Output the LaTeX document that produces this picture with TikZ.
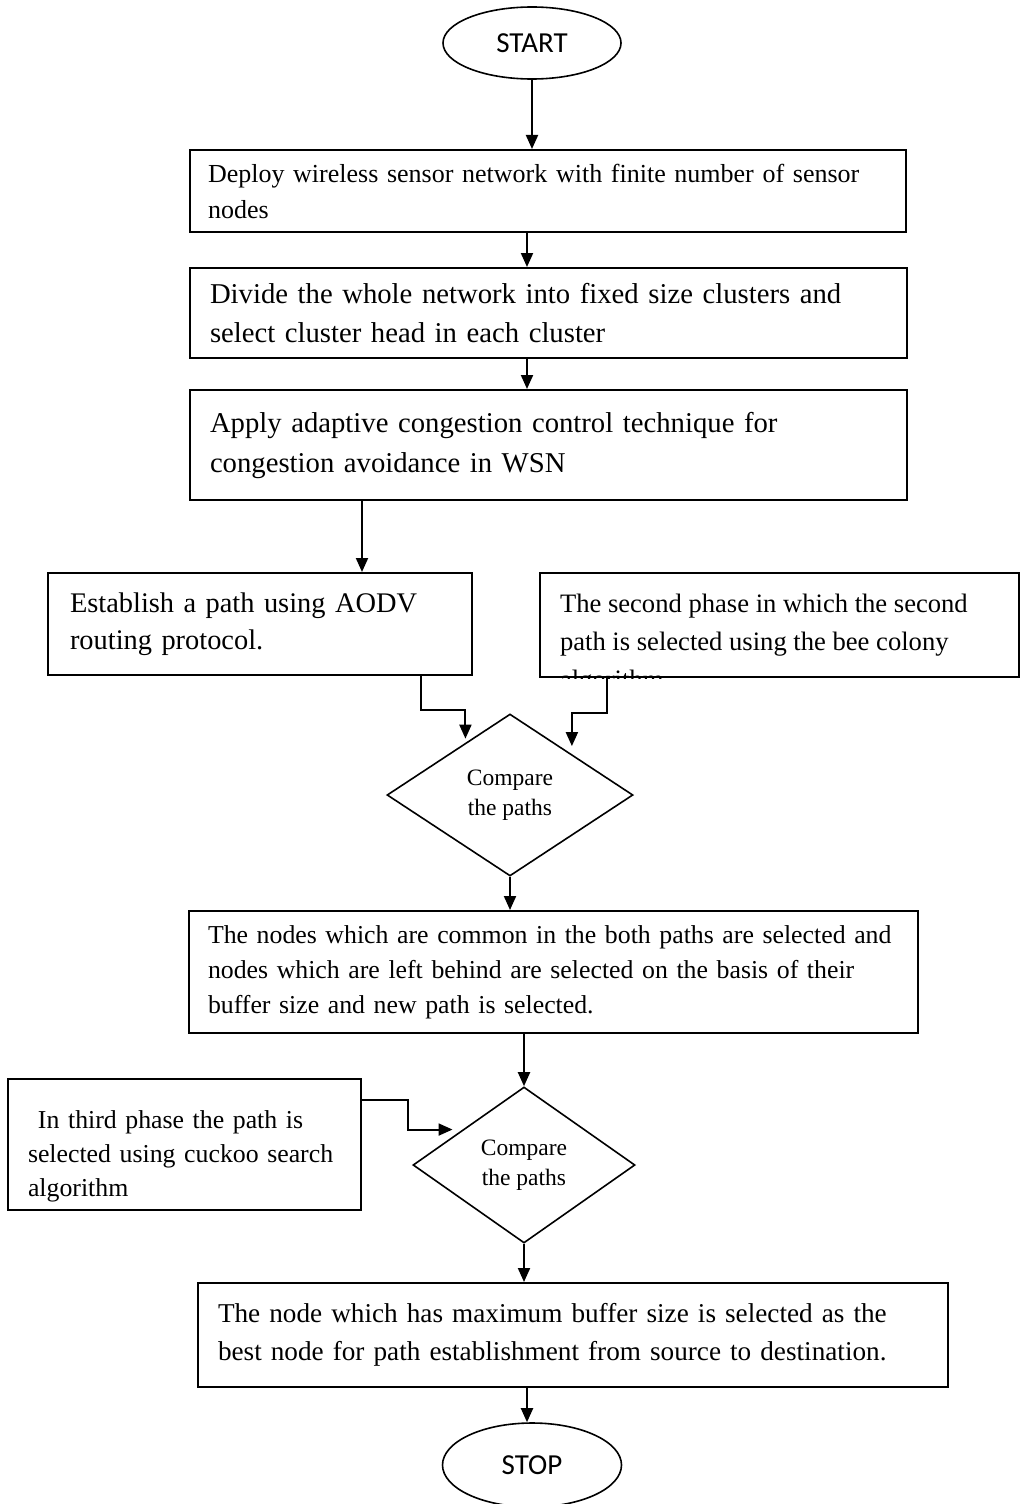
\documentclass[tikz,border=0pt]{standalone}
\usepackage{fontspec}
\setmainfont{Liberation Serif}
\newfontfamily\calibfont{Carlito}
\usepackage{tikz}
\usetikzlibrary{arrows.meta, positioning, shapes.geometric, calc}

\begin{document}
\begin{tikzpicture}[x=0.5pt, y=-0.5pt, >={Triangle[length=7pt,width=6pt]},
      line width=1pt,
      term/.style={draw, ellipse, line width=0.8pt, inner sep=0pt,
                   font=\calibfont\fontsize{14.5pt}{17pt}\selectfont},
      stepbox/.style={draw, rectangle, align=left, inner ysep=0pt},
      decide/.style={draw, diamond, line width=0.8pt, inner sep=0pt,
                     align=center, font=\fontsize{11.75pt}{15pt}\selectfont},
      bigtxt/.style={font=\fontsize{14.35pt}{19.5pt}\selectfont},
      smalltxt/.style={font=\fontsize{12.9pt}{17.5pt}\selectfont}]

    \useasboundingbox (0,0) rectangle (1021,1504);
    \coordinate (spine) at (527,0);     % main vertical line

    % --- start ---
    \node[term, minimum width=89pt, minimum height=36pt] (start) at (532,43) {START};

    % --- first three steps ---
    \node[stepbox, font=\fontsize{13pt}{18pt}\selectfont,
          text width=340pt, inner xsep=9pt, minimum height=41pt]
          (b1) at (548,191)
          {Deploy wireless sensor network with finite number of sensor\\nodes};
    \node[stepbox, bigtxt, text width=338.5pt, inner xsep=10pt, minimum height=45pt]
          (b2) at (548.5,313)
          {Divide the whole network into fixed size clusters and\\select cluster head in each cluster};
    \node[stepbox, bigtxt, font=\fontsize{14.35pt}{20pt}\selectfont,
          text width=338.5pt, inner xsep=10pt, minimum height=55pt]
          (b3) at (548.5,445)
          {Apply adaptive congestion control technique for\\congestion avoidance in WSN};

    % --- two paths ---
    \node[stepbox, font=\fontsize{14.2pt}{18.5pt}\selectfont,
          text width=190pt, inner xsep=11pt, minimum height=51pt]
          (b4) at (260,624)
          {Establish a path using AODV\\routing protocol.};
    \node[stepbox, minimum width=239.5pt, minimum height=52pt] (b5) at (779.5,625) {};
    \begin{scope}
      \clip (b5.north west) rectangle (b5.south east);
      \node[font=\fontsize{13.3pt}{19pt}\selectfont, align=left,
            anchor=north west, inner xsep=10pt, inner ysep=10.5pt]
            (b5txt) at (b5.north west)
            {The second phase in which the second\\path is selected using the bee colony\\algorithm};
    \end{scope}

    % --- first comparison ---
    \node[decide, minimum width=123pt, minimum height=81pt] (d1) at (510,795)
          {Compare\\the paths};
    \node[stepbox, smalltxt, text width=345.5pt, inner xsep=9.5pt, minimum height=61pt]
          (b6) at (553.5,972)
          {The nodes which are common in the both paths are selected and\\nodes which are left behind are selected on the basis of their\\buffer size and new path is selected.};

    % --- third phase, second comparison ---
    \node[stepbox, font=\fontsize{12.9pt}{17pt}\selectfont,
          text width=156.5pt, inner xsep=10pt, minimum height=65.5pt]
          (b7) at (184.5,1144.5)
          {\rule{0pt}{21pt}\hspace*{5pt}In third phase the path is\\selected using cuckoo search\\algorithm};
    \node[decide, minimum width=111pt, minimum height=78pt] (d2) at (524,1165)
          {Compare\\the paths};
    \node[stepbox, font=\fontsize{13.6pt}{19pt}\selectfont,
          text width=355pt, inner xsep=10pt, minimum height=52pt]
          (b8) at (573,1335)
          {The node which has maximum buffer size is selected as the\\best node for path establishment from source to destination.};

    % --- stop ---
    \node[term, minimum width=89.5pt, minimum height=42pt] (stop) at (532,1465) {STOP};

    % --- connectors ---
    \draw[->] (start.south) -- (start.south |- b1.north);
    \draw[->] (b1.south -| spine) -- (b2.north -| spine);
    \draw[->] (b2.south -| spine) -- (b3.north -| spine);
    \draw[->] ([xshift=51pt]b4.north |- b3.south) -- ([xshift=51pt]b4.north);
    \draw[->, shorten >=2pt] ([xshift=80.5pt]b4.south) -- ++(0,34)
          -| ($(d1.north)!0.36!(d1.west)$);
    \draw[->, shorten >=4pt] ([xshift=-86.25pt]b5.south) -- ++(0,35)
          -| ($(d1.north)!0.5!(d1.east)$);
    \draw[->] (d1.south) -- (d1.south |- b6.north);
    \draw[->] (b6.south -| d2.north) -- (d2.north);
    \draw[->, shorten >=5pt] ([yshift=22.25pt]b7.east) -- ++(46,0)
          |- ($(d2.north)!0.55!(d2.west)$);
    \draw[->] (d2.south) -- (d2.south |- b8.north);
    \draw[->] (b8.south -| spine) -- (stop.north -| spine);
  \end{tikzpicture}
\end{document}
